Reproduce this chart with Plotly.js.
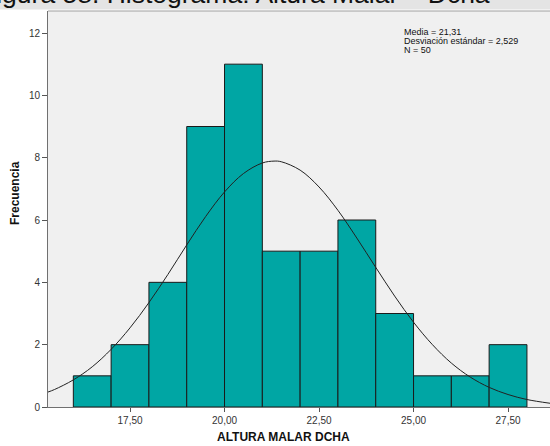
<!DOCTYPE html>
<html>
<head>
<meta charset="utf-8">
<script src="https://cdn.plot.ly/plotly-3.0.1.min.js"></script>
<style>html,body{margin:0;padding:0;background:#fff;}#chart{width:550px;height:446px;}</style>
</head>
<body>
<div id="chart"></div>
<script>
// Histogram bins (bin centres) and frequencies
var binCenters = [16.5, 17.5, 18.5, 19.5, 20.5, 21.5, 22.5, 23.5, 24.5, 25.5, 26.5, 27.5];
var frequencies = [1, 2, 4, 9, 11, 5, 5, 6, 3, 1, 1, 2];

// Normal curve, points
var curveX = [15.33, 15.5, 16, 16.5, 17, 17.5, 18, 18.5, 19, 19.5, 20, 20.5, 21, 21.31, 21.5, 22, 22.5, 23, 23.5, 24, 24.5, 25, 25.5, 26, 26.5, 27, 27.5, 28, 28.61];
var curveY = [0.48, 0.56, 0.87, 1.29, 1.85, 2.54, 3.35, 4.25, 5.20, 6.11, 6.90, 7.49, 7.83, 7.89, 7.87, 7.60, 7.06, 6.31, 5.42, 4.48, 3.56, 2.72, 2.00, 1.41, 0.96, 0.63, 0.40, 0.24, 0.12];

var xTickVals = [17.5, 20, 22.5, 25, 27.5];
var xTickText = ['17,50', '20,00', '22,50', '25,00', '27,50'];
var yTickVals = [0, 2, 4, 6, 8, 10, 12];

var statsLines = ['Media = 21,31', 'Desviación estándar = 2,529', 'N = 50'];
var chartTitle = 'Figura 58. Histograma: Altura Malar – Dcha';
var xTitle = 'ALTURA MALAR DCHA';
var yTitle = 'Frecuencia';

var L = 48, R = 0, T = 11, B = 39, W = 550, H = 446;
var pw = W - L - R, ph = H - T - B;
function px(X) { return (X - L) / pw; }
function py(Y) { return (H - B - Y) / ph; }

var font = 'Liberation Sans, Arial, sans-serif';

var traces = [
  {
    type: 'bar', x: binCenters, y: frequencies, width: 1,
    marker: {color: '#00a6a4', line: {color: '#1a1a1a', width: 1}},
    hoverinfo: 'skip'
  },
  {
    type: 'scatter', mode: 'lines', x: curveX, y: curveY,
    line: {color: '#222222', width: 1, shape: 'spline'},
    hoverinfo: 'skip'
  }
];

var annotations = [
  {text: chartTitle, xref: 'paper', yref: 'paper', x: px(-22), y: py(-6), xanchor: 'left', yanchor: 'middle', showarrow: false, font: {family: font, size: 26.5, color: '#111'}},
  {text: xTitle, xref: 'paper', yref: 'paper', x: px(283), y: py(437), xanchor: 'center', yanchor: 'middle', showarrow: false, font: {family: font, size: 12, color: '#111', weight: 'bold'}},
  {text: yTitle, xref: 'paper', yref: 'paper', x: px(15), y: py(193), xanchor: 'center', yanchor: 'middle', textangle: -90, showarrow: false, font: {family: font, size: 12, color: '#111', weight: 'bold'}}
];
var statY = [31.5, 41, 50.5];
for (var i = 0; i < statsLines.length; i++) {
  annotations.push({text: statsLines[i], xref: 'paper', yref: 'paper', x: px(403), y: py(statY[i]), xanchor: 'left', yanchor: 'middle', showarrow: false, borderpad: 0, font: {family: font, size: 9, color: '#111'}});
}

var layout = {
  width: W, height: H,
  margin: {l: L, r: R, t: T, b: B, pad: 0},
  paper_bgcolor: '#ffffff',
  plot_bgcolor: '#f0f0f0',
  showlegend: false,
  bargap: 0,
  xaxis: {
    range: [15.33, 28.61], tickvals: xTickVals, ticktext: xTickText,
    ticks: 'outside', ticklen: 4, tickcolor: '#555', showgrid: false, zeroline: false,
    showline: true, linecolor: '#707070', linewidth: 1,
    tickfont: {family: font, size: 10, color: '#333'}
  },
  yaxis: {
    range: [0, 12.706], tickvals: yTickVals,
    ticks: 'outside', ticklen: 5, tickcolor: '#555', showgrid: false, zeroline: false,
    showline: true, linecolor: '#707070', linewidth: 1,
    tickfont: {family: font, size: 10, color: '#333'}
  },
  shapes: [
    {type: 'rect', xref: 'paper', yref: 'paper', x0: px(-10), x1: px(560), y0: py(9.5), y1: py(-10), fillcolor: '#e4e4e4', line: {width: 0}, layer: 'below'},
    {type: 'line', xref: 'paper', yref: 'paper', x0: 0, x1: 1, y0: 1, y1: 1, line: {color: '#a0a0a0', width: 1}}
  ],
  annotations: annotations
};

Plotly.newPlot('chart', traces, layout, {displayModeBar: false, staticPlot: true});
</script>
</body>
</html>
